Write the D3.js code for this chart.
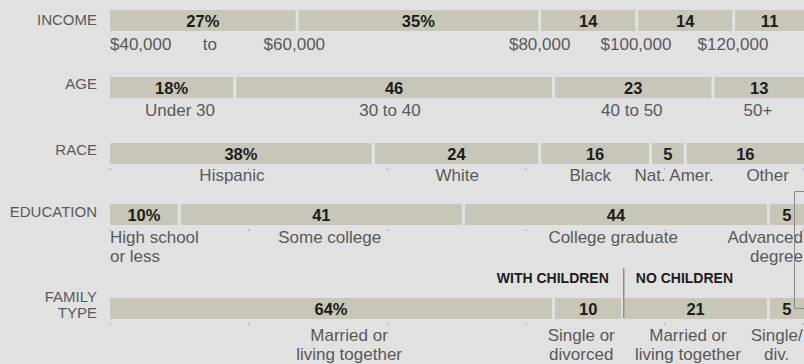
<!DOCTYPE html>
<html>
<head>
<meta charset="utf-8">
<script src="https://cdn.jsdelivr.net/npm/d3@7"></script>
<style>
  html, body { margin: 0; padding: 0; background: #e1e1e1; }
  svg { display: block; font-family: "Liberation Sans", Arial, sans-serif; }
</style>
</head>
<body>
<div id="chart"></div>
<script>
// Données : parts en %, textes des valeurs, libellés et position des libellés (en % de l'axe)
const incomeValues = [27, 35, 14, 14, 11];
const incomeValueText = ["27%", "35%", "14", "14", "11"];
const incomeLabels = ["$40,000", "to", "$60,000", "$80,000", "$100,000", "$120,000"];
const incomeLabelAt = [0, 14.4, 26.6, 62.0, 75.9, 89.9];

const ageValues = [18, 46, 23, 13];
const ageValueText = ["18%", "46", "23", "13"];
const ageLabels = ["Under 30", "30 to 40", "40 to 50", "50+"];
const ageLabelAt = [10.1, 40.4, 75.3, 93.5];

const raceValues = [38, 24, 16, 5, 16];
const raceValueText = ["38%", "24", "16", "5", "16"];
const raceLabels = ["Hispanic", "White", "Black", "Nat. Amer.", "Other"];
const raceLabelAt = [17.6, 50.1, 69.3, 81.4, 94.9];

const educationValues = [10, 41, 44, 5];
const educationValueText = ["10%", "41", "44", "5"];
const educationLabels = ["High school\nor less", "Some college", "College graduate", "Advanced\ndegree"];
const educationLabelAt = [0, 31.7, 72.6, 100];

const familyValues = [64, 10, 21, 5];
const familyValueText = ["64%", "10", "21", "5"];
const familyLabels = ["Married or\nliving together", "Single or\ndivorced", "Married or\nliving together", "Single/\ndiv."];
const familyLabelAt = [34.5, 68.0, 83.4, 96.2];

const tickValues = [0, 20, 40, 60, 80, 100];

// Configuration générale
const width = 804;
const height = 364;
const barH = 21;
const gap = 3;

const rows = [
  { name: ["INCOME"], values: incomeValues, text: incomeValueText, labels: incomeLabels, at: incomeLabelAt,
    top: 10, labelDy: 40, nameDy: 15, ticks: false,
    anchors: ["start", "middle", "middle", "middle", "middle", "middle"] },
  { name: ["AGE"], values: ageValues, text: ageValueText, labels: ageLabels, at: ageLabelAt,
    top: 77, labelDy: 39, nameDy: 12, ticks: false },
  { name: ["RACE"], values: raceValues, text: raceValueText, labels: raceLabels, at: raceLabelAt,
    top: 143, labelDy: 38, nameDy: 12, ticks: true },
  { name: ["EDUCATION"], values: educationValues, text: educationValueText, labels: educationLabels, at: educationLabelAt,
    top: 204, labelDy: 39, nameDy: 13, ticks: true,
    anchors: ["start", "middle", "middle", "end"] },
  { name: ["FAMILY", "TYPE"], values: familyValues, text: familyValueText, labels: familyLabels, at: familyLabelAt,
    top: 298, labelDy: 43, nameDy: 4, ticks: true }
];

const x = d3.scaleLinear().domain([0, 100]).range([110, 803]);

const svg = d3.select("#chart")
  .append("svg")
  .attr("width", width)
  .attr("height", height);

svg.append("rect").attr("width", width).attr("height", height).attr("fill", "#e1e1e1");

rows.forEach((row) => {
  const g = svg.append("g").attr("transform", `translate(0,${row.top})`);

  // Segments (le dernier est coupé par le bord droit)
  let cum = 0;
  const last = row.values.length - 1;
  const segs = row.values.map((v, i) => {
    const s = { v: v, i: i, start: cum, end: cum + v };
    cum += v;
    s.x0 = x(s.start) + (i > 0 ? gap / 2 : 0);
    s.x1 = i === last ? width : Math.min(x(s.end) - gap / 2, width);
    return s;
  });

  g.selectAll(".seg")
    .data(segs)
    .enter()
    .append("rect")
    .attr("class", "seg")
    .attr("x", (d) => d.x0)
    .attr("width", (d) => d.x1 - d.x0)
    .attr("y", 0)
    .attr("height", barH)
    .attr("fill", "#c7c6b9");

  g.selectAll(".val")
    .data(segs)
    .enter()
    .append("text")
    .attr("x", (d) => (d.x0 + d.x1) / 2)
    .attr("y", 16.5)
    .attr("text-anchor", "middle")
    .attr("font-size", "16.5px")
    .attr("font-weight", "bold")
    .attr("fill", "#1c1c1c")
    .text((d) => row.text[d.i]);

  // Petits repères sous la barre
  if (row.ticks) {
    g.selectAll(".tick")
      .data(tickValues)
      .enter()
      .append("rect")
      .attr("x", (d) => x(d) - 0.5)
      .attr("y", barH + 4)
      .attr("width", 1)
      .attr("height", 2)
      .attr("fill", "#aaa");
  }

  // Libellés des catégories
  row.labels.forEach((lab, i) => {
    const t = g.append("text")
      .attr("x", x(row.at[i]))
      .attr("y", row.labelDy)
      .attr("text-anchor", row.anchors ? row.anchors[i] : "middle")
      .attr("font-size", "17px")
      .attr("fill", "#595959");
    lab.split("\n").forEach((line, k) => {
      t.append("tspan")
        .attr("x", x(row.at[i]))
        .attr("dy", k === 0 ? 0 : 19)
        .text(line);
    });
  });

  // Nom de la ligne
  const n = g.append("text")
    .attr("x", 97)
    .attr("y", row.nameDy)
    .attr("text-anchor", "end")
    .attr("font-size", "15px")
    .attr("fill", "#595959");
  row.name.forEach((line, k) => {
    n.append("tspan").attr("x", 97).attr("dy", k === 0 ? 0 : 16).text(line);
  });
});

// En-têtes du type de famille
const fam = rows[4];
const split = x(familyValues[0] + familyValues[1]) + 1;
svg.append("text")
  .attr("x", split - 15)
  .attr("y", fam.top - 15)
  .attr("text-anchor", "end")
  .attr("font-size", "14px")
  .attr("font-weight", "bold")
  .attr("fill", "#1c1c1c")
  .text("WITH CHILDREN");
svg.append("text")
  .attr("x", split + 12)
  .attr("y", fam.top - 15)
  .attr("text-anchor", "start")
  .attr("font-size", "14px")
  .attr("font-weight", "bold")
  .attr("fill", "#1c1c1c")
  .text("NO CHILDREN");
svg.append("line")
  .attr("x1", split).attr("x2", split)
  .attr("y1", fam.top - 30).attr("y2", fam.top + barH - 1)
  .attr("stroke", "#666")
  .attr("stroke-width", 1);

// Crochet à droite (bord de l'annotation coupée)
const bx = Math.round(x(98.7)) + 0.5;
const by0 = rows[3].top - 13;
const by1 = fam.top + 10;
svg.append("path")
  .attr("d", `M${width},${by0 + 0.5}H${bx}V${by1 + 0.5}H${width}`)
  .attr("fill", "none")
  .attr("stroke", "#888")
  .attr("stroke-width", 1);
</script>
</body>
</html>
